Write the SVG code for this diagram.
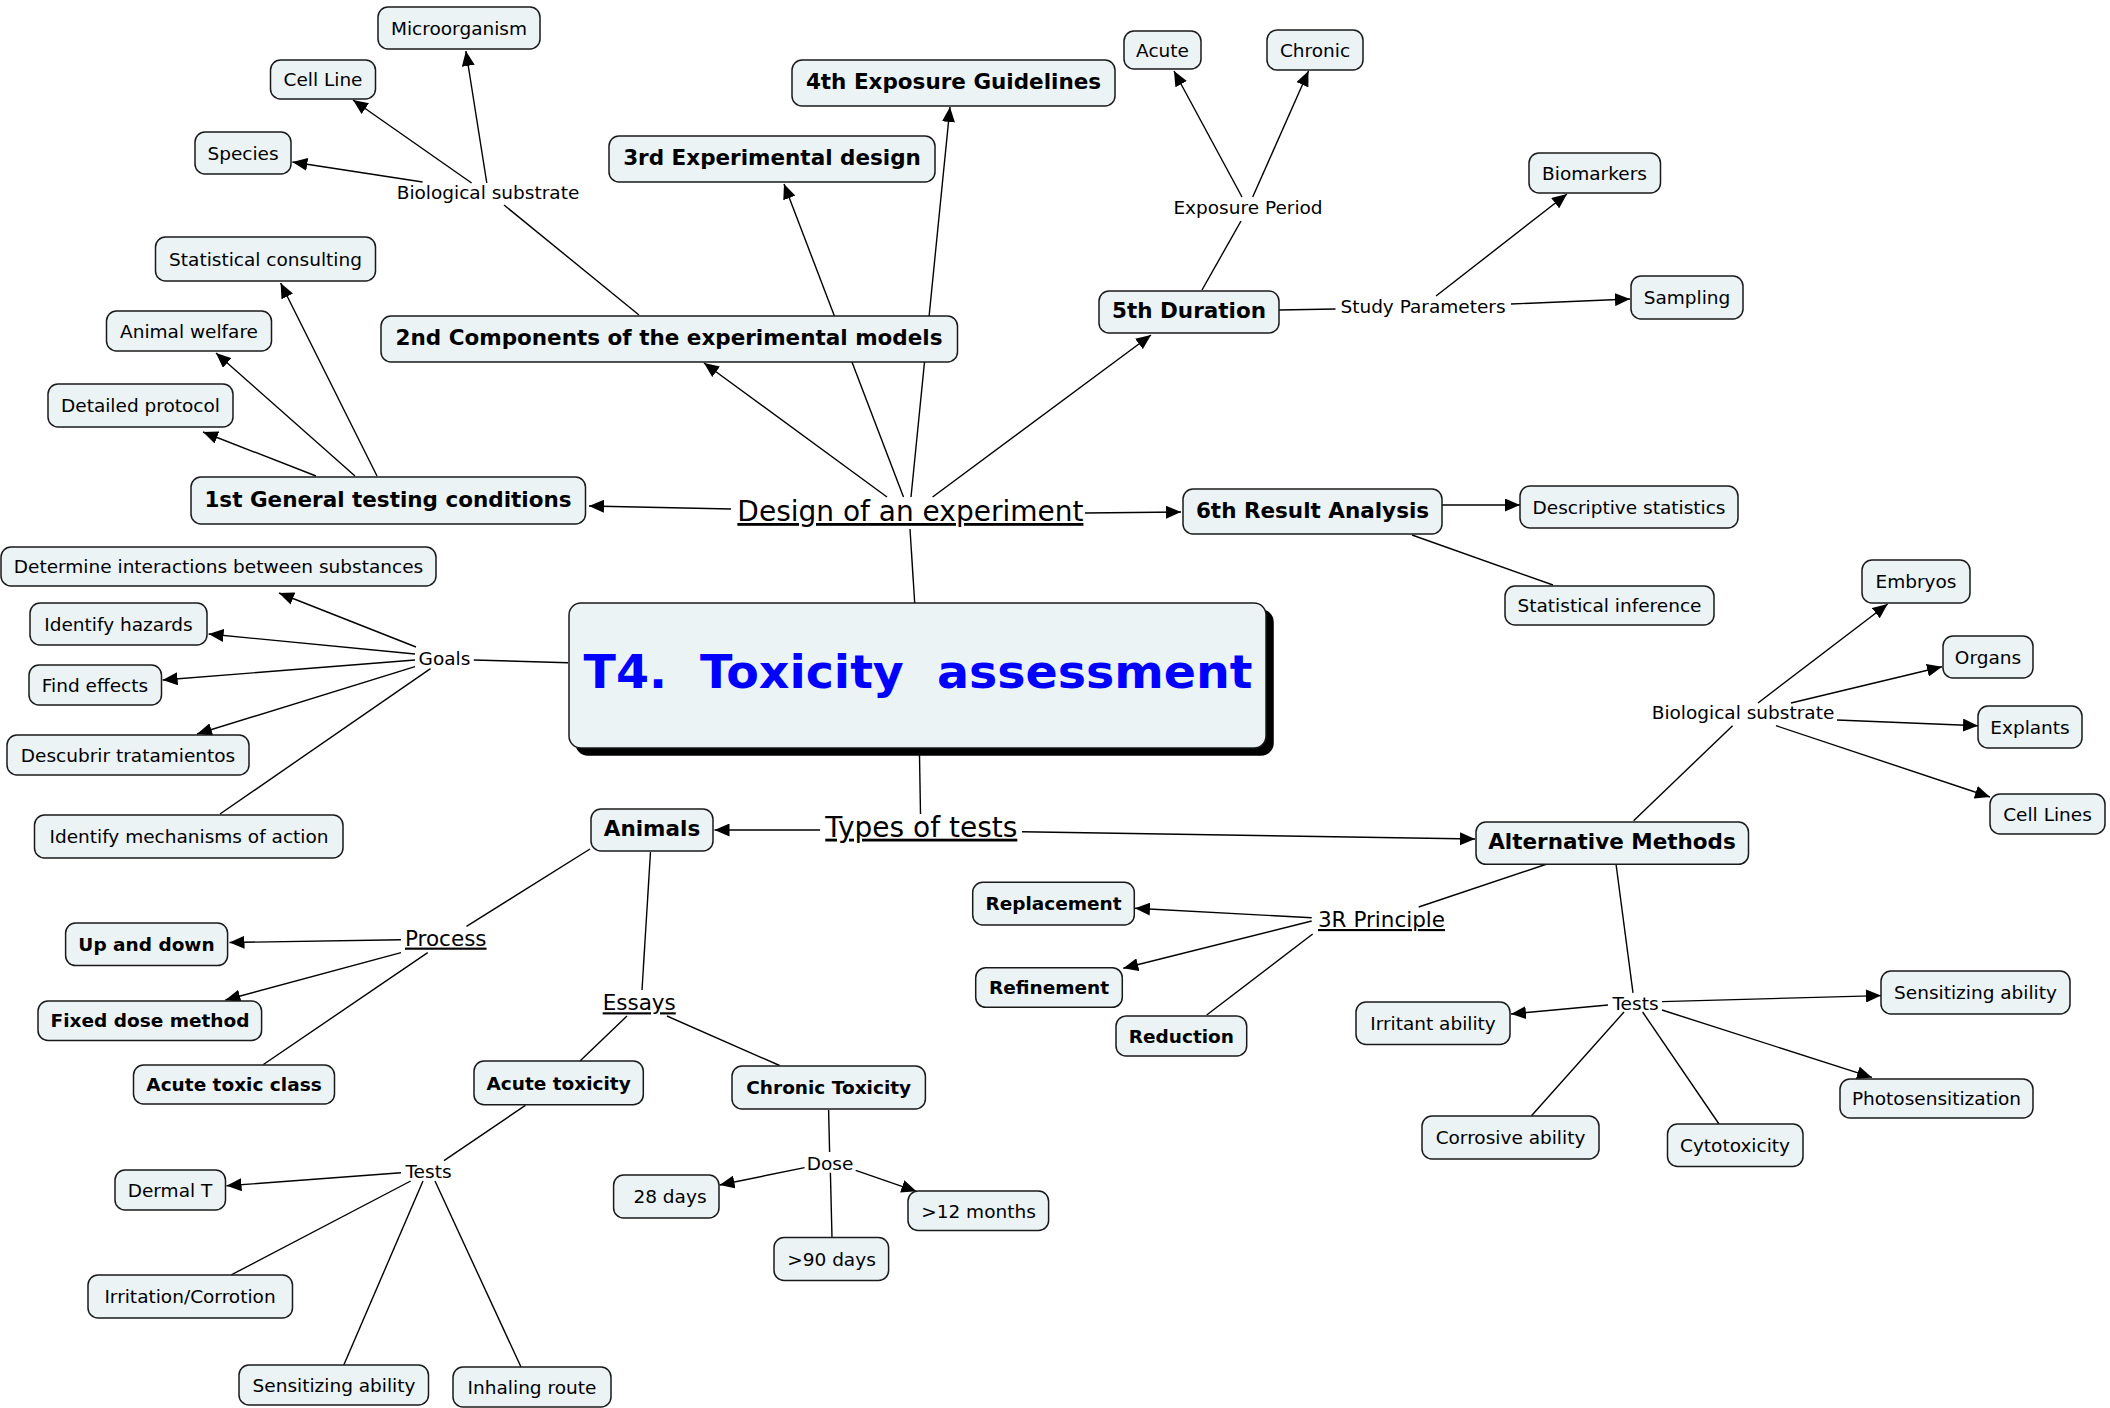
<svg xmlns="http://www.w3.org/2000/svg" width="2110" height="1408" viewBox="0 0 2110 1408">
<style>
.n rect{fill:#ebf3f5;stroke:#1a1a1a;stroke-width:1.5}
.t{font-family:"DejaVu Sans",Verdana,sans-serif;font-size:18.5px;text-anchor:middle;fill:#000}
.b{font-weight:bold}
.big{font-size:21.5px;font-weight:bold}
.u{text-decoration:underline}
.h{font-size:28px}
.m{font-size:21.5px}
#connectors line{stroke:#000;stroke-width:1.4;fill:none}
#connectors line.a{marker-end:url(#arr)}
</style>
<defs>
<marker id="arr" markerUnits="userSpaceOnUse" markerWidth="16" markerHeight="13" refX="15" refY="6.5" orient="auto"><path d="M0,0 L15,6.5 L0,13 z" fill="#000"/></marker>
</defs>
<rect width="2110" height="1408" fill="#fff"/>
<g id="connectors">
<line class="a" x1="422.6" y1="182" x2="292.4" y2="162"/>
<line class="a" x1="471.6" y1="183" x2="353" y2="100"/>
<line class="a" x1="486.8" y1="183" x2="465.9" y2="51"/>
<line x1="504" y1="205" x2="639" y2="315"/>
<line class="a" x1="316" y1="476" x2="203" y2="432"/>
<line class="a" x1="355" y1="476" x2="216" y2="353"/>
<line class="a" x1="377" y1="476" x2="280.6" y2="283"/>
<line class="a" x1="731" y1="509" x2="589" y2="506"/>
<line class="a" x1="1085" y1="513" x2="1181" y2="512"/>
<line class="a" x1="887" y1="497" x2="704" y2="363"/>
<line class="a" x1="903.5" y1="497" x2="784" y2="184"/>
<line class="a" x1="911" y1="497" x2="950" y2="107"/>
<line class="a" x1="932.6" y1="497" x2="1151" y2="335"/>
<line x1="910" y1="529" x2="914.7" y2="603"/>
<line x1="1202" y1="290" x2="1241" y2="221"/>
<line class="a" x1="1242" y1="197" x2="1174" y2="71"/>
<line class="a" x1="1252.7" y1="197" x2="1308.5" y2="71"/>
<line x1="1279" y1="310" x2="1335.5" y2="309"/>
<line class="a" x1="1436" y1="296" x2="1567" y2="194"/>
<line class="a" x1="1511" y1="304" x2="1630" y2="299"/>
<line class="a" x1="1442" y1="505" x2="1520" y2="505"/>
<line x1="1412" y1="535" x2="1553" y2="585"/>
<line x1="473.8" y1="660" x2="568" y2="662.7"/>
<line class="a" x1="416" y1="647" x2="279" y2="593"/>
<line class="a" x1="415" y1="654" x2="208.6" y2="634"/>
<line class="a" x1="415" y1="660" x2="162.6" y2="680"/>
<line class="a" x1="415" y1="666.7" x2="197" y2="734"/>
<line x1="430.5" y1="668.7" x2="220" y2="814"/>
<line x1="919.5" y1="755" x2="920.5" y2="814"/>
<line class="a" x1="820" y1="830" x2="714.5" y2="830"/>
<line class="a" x1="1022" y1="831.7" x2="1475" y2="839"/>
<line x1="590" y1="849" x2="466.5" y2="926.4"/>
<line x1="650.5" y1="852" x2="642" y2="990"/>
<line class="a" x1="401" y1="939.7" x2="229.5" y2="942.5"/>
<line class="a" x1="401" y1="952.6" x2="225.4" y2="1000"/>
<line x1="427.7" y1="952.6" x2="263.4" y2="1064.5"/>
<line x1="627" y1="1016" x2="580" y2="1061"/>
<line x1="667" y1="1016" x2="779.6" y2="1065.5"/>
<line x1="525.4" y1="1105.4" x2="444" y2="1160.6"/>
<line class="a" x1="401" y1="1172.8" x2="226.5" y2="1185.8"/>
<line x1="410.7" y1="1181" x2="231" y2="1275"/>
<line x1="423" y1="1181" x2="343.8" y2="1365"/>
<line x1="435" y1="1181" x2="521" y2="1367"/>
<line x1="828.6" y1="1110" x2="829.6" y2="1152"/>
<line class="a" x1="804.6" y1="1167.6" x2="719.6" y2="1185"/>
<line class="a" x1="855.7" y1="1170.4" x2="916.4" y2="1191.3"/>
<line x1="830.4" y1="1172.8" x2="832" y2="1237.5"/>
<line x1="1633.6" y1="820.7" x2="1732.6" y2="725.7"/>
<line class="a" x1="1758" y1="703" x2="1887.7" y2="604"/>
<line class="a" x1="1791" y1="703" x2="1942" y2="666.7"/>
<line class="a" x1="1837" y1="720" x2="1978" y2="725.7"/>
<line class="a" x1="1776" y1="725.7" x2="1990" y2="797"/>
<line x1="1547" y1="864" x2="1418.7" y2="907"/>
<line x1="1616" y1="864" x2="1633" y2="992.8"/>
<line class="a" x1="1311.7" y1="917.7" x2="1135" y2="908.3"/>
<line class="a" x1="1311.7" y1="921" x2="1123.3" y2="968.3"/>
<line x1="1312.7" y1="934" x2="1206.7" y2="1015"/>
<line class="a" x1="1608" y1="1005" x2="1511" y2="1014"/>
<line class="a" x1="1662" y1="1001.6" x2="1881" y2="995.6"/>
<line class="a" x1="1662" y1="1010" x2="1872" y2="1077.4"/>
<line x1="1624" y1="1012" x2="1531.5" y2="1115.8"/>
<line x1="1642.6" y1="1012" x2="1719" y2="1124"/>
</g>
<g id="center" class="n">
<rect x="576" y="610" width="697" height="145" rx="12" style="fill:#000;stroke:#000"/>
<rect x="569" y="603" width="697" height="145" rx="12"/>
<text x="918" y="688" xml:space="preserve" textLength="669" lengthAdjust="spacingAndGlyphs" style="font-family:'DejaVu Sans',Verdana,sans-serif;font-size:47px;font-weight:bold;fill:#0000ff;text-anchor:middle">T4.  Toxicity  assessment</text>
</g>
<g id="n-microorganism" class="n"><rect x="378" y="7" width="162" height="42" rx="10"/><text class="t" x="459" y="34.5">Microorganism</text></g>
<g id="n-cellline" class="n"><rect x="270.5" y="60" width="105" height="39" rx="10"/><text class="t" x="323" y="86">Cell Line</text></g>
<g id="n-species" class="n"><rect x="195" y="132" width="96" height="42" rx="10"/><text class="t" x="243" y="159.5">Species</text></g>
<g id="n-statcons" class="n"><rect x="155.5" y="237" width="220" height="44" rx="10"/><text class="t" x="265.5" y="265.5">Statistical consulting</text></g>
<g id="n-animalwelfare" class="n"><rect x="106.5" y="311" width="165" height="40" rx="10"/><text class="t" x="189" y="337.5">Animal welfare</text></g>
<g id="n-detailed" class="n"><rect x="48" y="384" width="185" height="43" rx="10"/><text class="t" x="140.5" y="412">Detailed protocol</text></g>
<g id="n-acute" class="n"><rect x="1124" y="31" width="77" height="38" rx="10"/><text class="t" x="1162.5" y="56.5">Acute</text></g>
<g id="n-chronic" class="n"><rect x="1267" y="30" width="96" height="40" rx="10"/><text class="t" x="1315" y="56.5">Chronic</text></g>
<g id="n-biomarkers" class="n"><rect x="1529" y="153" width="131.5" height="40" rx="10"/><text class="t" x="1594.5" y="179.5">Biomarkers</text></g>
<g id="n-sampling" class="n"><rect x="1631" y="276" width="112" height="43" rx="10"/><text class="t" x="1687" y="304">Sampling</text></g>
<g id="n-descriptive" class="n"><rect x="1520" y="486" width="218" height="42" rx="10"/><text class="t" x="1629" y="513.5">Descriptive statistics</text></g>
<g id="n-inference" class="n"><rect x="1505" y="586" width="209" height="39" rx="10"/><text class="t" x="1609.5" y="612">Statistical inference</text></g>
<g id="n-determine" class="n"><rect x="1" y="547" width="435" height="39" rx="10"/><text class="t" x="218.5" y="573">Determine interactions between substances</text></g>
<g id="n-hazards" class="n"><rect x="30" y="603" width="177" height="42" rx="10"/><text class="t" x="118.5" y="630.5">Identify hazards</text></g>
<g id="n-findeffects" class="n"><rect x="29" y="665" width="132.5" height="40" rx="10"/><text class="t" x="95" y="691.5">Find effects</text></g>
<g id="n-descubrir" class="n"><rect x="7" y="735" width="242" height="40" rx="10"/><text class="t" x="128" y="761.5">Descubrir tratamientos</text></g>
<g id="n-mechanisms" class="n"><rect x="34.5" y="815" width="308.5" height="43" rx="10"/><text class="t" x="189" y="843">Identify mechanisms of action</text></g>
<g id="n-embryos" class="n"><rect x="1862" y="560" width="108" height="43" rx="10"/><text class="t" x="1916" y="588">Embryos</text></g>
<g id="n-organs" class="n"><rect x="1943" y="636" width="90" height="42" rx="10"/><text class="t" x="1988" y="663.5">Organs</text></g>
<g id="n-explants" class="n"><rect x="1978" y="706" width="104" height="42" rx="10"/><text class="t" x="2030" y="733.5">Explants</text></g>
<g id="n-celllines" class="n"><rect x="1990" y="794" width="115" height="40" rx="10"/><text class="t" x="2047.5" y="820.5">Cell Lines</text></g>
<g id="n-irritant" class="n"><rect x="1356" y="1002" width="154" height="42.5" rx="10"/><text class="t" x="1433" y="1029.5">Irritant ability</text></g>
<g id="n-sensitizing-r" class="n"><rect x="1881" y="971" width="189" height="43" rx="10"/><text class="t" x="1975.5" y="999">Sensitizing ability</text></g>
<g id="n-photo" class="n"><rect x="1840" y="1079" width="193" height="39" rx="10"/><text class="t" x="1936.5" y="1105">Photosensitization</text></g>
<g id="n-corrosive" class="n"><rect x="1422" y="1116" width="177" height="43" rx="10"/><text class="t" x="1510.5" y="1144">Corrosive ability</text></g>
<g id="n-cytotox" class="n"><rect x="1667.5" y="1124" width="135.5" height="42.5" rx="10"/><text class="t" x="1735" y="1151.5">Cytotoxicity</text></g>
<g id="n-dermal" class="n"><rect x="115" y="1170" width="110.5" height="40" rx="10"/><text class="t" x="170" y="1196.5">Dermal T</text></g>
<g id="n-irritation" class="n"><rect x="88" y="1275" width="204.5" height="43" rx="10"/><text class="t" x="190" y="1303">Irritation/Corrotion</text></g>
<g id="n-sensitizing-l" class="n"><rect x="239" y="1365" width="189.5" height="40" rx="10"/><text class="t" x="334" y="1391.5">Sensitizing ability</text></g>
<g id="n-inhaling" class="n"><rect x="453" y="1367" width="158" height="40" rx="10"/><text class="t" x="532" y="1393.5">Inhaling route</text></g>
<g id="n-28days" class="n"><rect x="613.6" y="1175" width="105.4" height="43" rx="10"/><text class="t" x="670" y="1203">28 days</text></g>
<g id="n-90days" class="n"><rect x="774" y="1237.5" width="114.6" height="43" rx="10"/><text class="t" x="831.5" y="1265.5">&gt;90 days</text></g>
<g id="n-12months" class="n"><rect x="908" y="1191" width="140.6" height="39.5" rx="10"/><text class="t" x="978.5" y="1217.5">&gt;12 months</text></g>
<g id="n-updown" class="n"><rect x="65.6" y="923" width="162" height="42.6" rx="10"/><text class="t b" x="146.5" y="951">Up and down</text></g>
<g id="n-fixeddose" class="n"><rect x="38" y="1001" width="223.6" height="39.4" rx="10"/><text class="t b" x="150" y="1027">Fixed dose method</text></g>
<g id="n-acuteclass" class="n"><rect x="133.5" y="1065" width="201" height="39" rx="10"/><text class="t b" x="234" y="1091">Acute toxic class</text></g>
<g id="n-acutetox" class="n"><rect x="474" y="1061" width="169.3" height="43.7" rx="10"/><text class="t b" x="558.6" y="1089.5">Acute toxicity</text></g>
<g id="n-chronictox" class="n"><rect x="732" y="1066" width="193.4" height="43" rx="10"/><text class="t b" x="828.7" y="1094">Chronic Toxicity</text></g>
<g id="n-replacement" class="n"><rect x="972.7" y="882.3" width="161.6" height="42.7" rx="10"/><text class="t b" x="1053.5" y="910">Replacement</text></g>
<g id="n-refinement" class="n"><rect x="975.7" y="967.7" width="146.6" height="39.6" rx="10"/><text class="t b" x="1049" y="994">Refinement</text></g>
<g id="n-reduction" class="n"><rect x="1116" y="1016" width="130.7" height="40" rx="10"/><text class="t b" x="1181.4" y="1042.5">Reduction</text></g>
<g id="n-1st" class="n"><rect x="191" y="477" width="394.5" height="47" rx="10"/><text class="t big" x="388" y="506.5">1st General testing conditions</text></g>
<g id="n-2nd" class="n"><rect x="381" y="316" width="576.5" height="46" rx="10"/><text class="t big" x="669" y="345">2nd Components of the experimental models</text></g>
<g id="n-3rd" class="n"><rect x="609" y="136" width="326" height="46" rx="10"/><text class="t big" x="772" y="165">3rd Experimental design</text></g>
<g id="n-4th" class="n"><rect x="792" y="60" width="323" height="46" rx="10"/><text class="t big" x="953.5" y="89">4th Exposure Guidelines</text></g>
<g id="n-5th" class="n"><rect x="1099" y="291" width="180" height="42" rx="10"/><text class="t big" x="1189" y="318">5th Duration</text></g>
<g id="n-6th" class="n"><rect x="1183" y="489" width="259" height="45" rx="10"/><text class="t big" x="1312.5" y="517.5">6th Result Analysis</text></g>
<g id="n-animals" class="n"><rect x="591" y="809" width="122" height="42" rx="10"/><text class="t big" x="652" y="836">Animals</text></g>
<g id="n-alternative" class="n"><rect x="1476" y="822" width="272.5" height="42.3" rx="10"/><text class="t big" x="1612" y="849">Alternative Methods</text></g>
<g id="labels">
<text class="t" x="488" y="199">Biological substrate</text>
<text class="t" x="1248" y="214">Exposure Period</text>
<text class="t" x="1423" y="312.5">Study Parameters</text>
<text class="t h u" x="910.4" y="521">Design of an experiment</text>
<text class="t" x="444.5" y="665">Goals</text>
<text class="t h u" x="921.3" y="836.7">Types of tests</text>
<text class="t" x="1743" y="719">Biological substrate</text>
<text class="t m u" x="1381.5" y="927">3R Principle</text>
<text class="t" x="1635.5" y="1009.5">Tests</text>
<text class="t m u" x="445.8" y="945.6">Process</text>
<text class="t m u" x="639.2" y="1010.3">Essays</text>
<text class="t" x="428.5" y="1178">Tests</text>
<text class="t" x="830" y="1170">Dose</text>
</g>
</svg>
